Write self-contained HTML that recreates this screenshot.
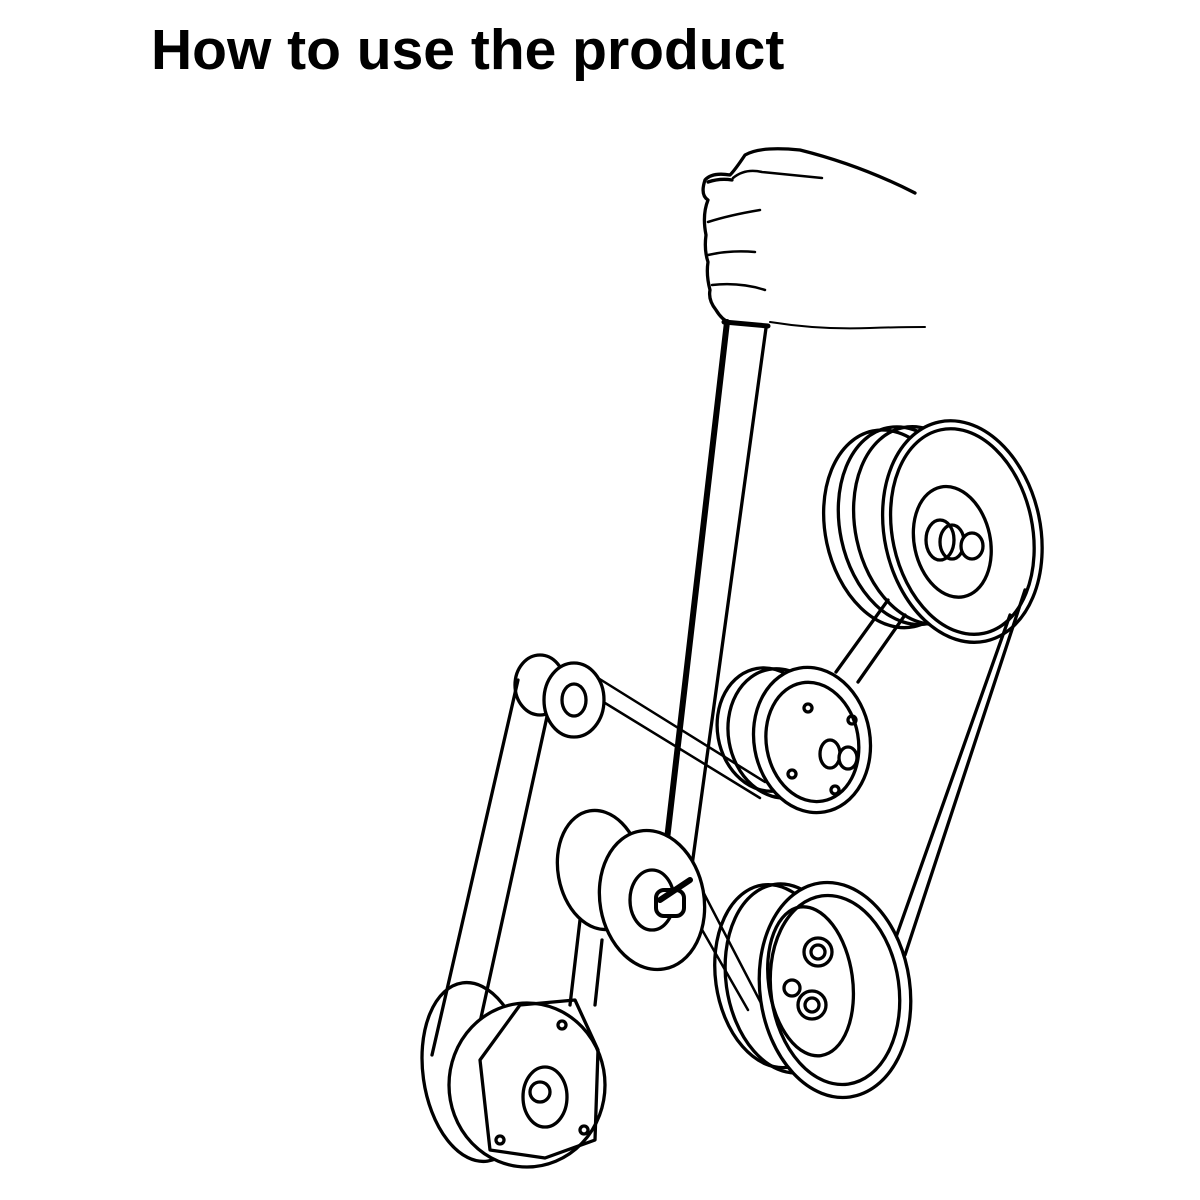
<!DOCTYPE html>
<html><head><meta charset="utf-8"><style>
html,body{margin:0;padding:0;background:#fff;width:1200px;height:1200px;overflow:hidden}
.t{position:absolute;left:151px;top:17px;font:bold 57px "Liberation Sans",sans-serif;color:#000;white-space:nowrap}
svg{position:absolute;left:0;top:0}
</style></head><body>
<div class="t">How to use the product</div>
<svg width="1200" height="1200" viewBox="0 0 1200 1200" fill="none" stroke="#000" stroke-width="3.3" stroke-linecap="round" stroke-linejoin="round">
<!-- hand -->
<path d="M915 193 Q860 165 800 150 Q760 146 745 155 Q735 170 730 175 Q712 172 705 180 Q700 195 708 200 Q702 215 706 235 Q704 250 708 262 Q706 275 710 290 Q708 300 716 310 Q722 320 730 323"/>
<path d="M708 182 Q720 178 732 180"/>
<path d="M733 178 Q745 168 762 172 L822 178" stroke-width="2.5"/>
<path d="M708 222 Q730 215 760 210" stroke-width="2.5"/>
<path d="M708 255 Q730 250 755 252" stroke-width="2.5"/>
<path d="M712 285 Q740 282 765 290" stroke-width="2.5"/>
<path d="M770 322 Q820 330 870 328 Q900 327 925 327" stroke-width="2"/>
<!-- wrench -->
<path d="M724 322 L768 326" stroke-width="5"/>
<path d="M727 322 L660 900" stroke-width="6"/>
<path d="M766 328 L690 880"/>
<!-- top big pulley -->
<g transform="rotate(-12 960 530)">
<ellipse cx="895" cy="515" rx="68" ry="100"/>
<ellipse cx="910" cy="515" rx="68" ry="100"/>
<ellipse cx="925" cy="518" rx="68" ry="100"/>
<ellipse cx="962" cy="532" rx="78" ry="112" fill="#fff"/>
<ellipse cx="962" cy="532" rx="70" ry="104"/>
<ellipse cx="950" cy="540" rx="38" ry="56"/>
</g>
<ellipse cx="940" cy="540" rx="14" ry="20"/>
<ellipse cx="952" cy="542" rx="12" ry="17"/>
<ellipse cx="972" cy="546" rx="11" ry="13" fill="#fff"/>
<!-- belts -->
<path d="M836 672 L888 600 M858 682 L905 615" />
<path d="M1025 590 L905 955 M1010 615 L895 940"/>
<path d="M598 678 L765 782 M592 695 L760 798" stroke-width="2.5"/>
<path d="M518 680 L432 1055 M548 712 L475 1045"/>
<path d="M697 880 L762 1005 M685 900 L748 1010" stroke-width="2.5"/>
<path d="M580 920 L570 1005 M602 940 L595 1005"/>
<!-- middle pulley -->
<g transform="rotate(-10 812 740)">
<ellipse cx="770" cy="722" rx="50" ry="62"/>
<ellipse cx="782" cy="728" rx="52" ry="65"/>
<ellipse cx="812" cy="740" rx="58" ry="73" fill="#fff"/>
<ellipse cx="812" cy="742" rx="46" ry="60"/>
</g>
<circle cx="808" cy="708" r="4"/><circle cx="852" cy="720" r="4"/><circle cx="792" cy="774" r="4"/><circle cx="835" cy="790" r="4"/>
<ellipse cx="830" cy="754" rx="10" ry="14"/>
<ellipse cx="848" cy="758" rx="9" ry="11" fill="#fff"/>
<!-- idler -->
<ellipse cx="540" cy="685" rx="25" ry="30"/>
<ellipse cx="574" cy="700" rx="30" ry="37" fill="#fff"/>
<ellipse cx="574" cy="700" rx="12" ry="16"/>
<!-- tensioner -->
<ellipse cx="600" cy="870" rx="42" ry="60" transform="rotate(-10 600 870)"/>
<ellipse cx="652" cy="900" rx="52" ry="70" fill="#fff" transform="rotate(-10 652 900)"/>
<ellipse cx="652" cy="900" rx="22" ry="30"/>
<rect x="656" y="890" width="28" height="26" rx="8" stroke-width="4" fill="#fff"/>
<path d="M660 900 L690 880" stroke-width="6"/>
<!-- bottom right pulley -->
<g transform="rotate(-8 835 990)">
<ellipse cx="778" cy="968" rx="60" ry="92"/>
<ellipse cx="790" cy="972" rx="62" ry="95"/>
<ellipse cx="835" cy="990" rx="75" ry="108" fill="#fff"/>
<ellipse cx="835" cy="990" rx="64" ry="95"/>
<ellipse cx="812" cy="978" rx="42" ry="75"/>
</g>
<circle cx="818" cy="952" r="14"/><circle cx="818" cy="952" r="7"/>
<circle cx="812" cy="1005" r="14"/><circle cx="812" cy="1005" r="7"/>
<circle cx="792" cy="988" r="8"/>
<!-- bottom left pulley -->
<ellipse cx="475" cy="1072" rx="52" ry="90" transform="rotate(-8 475 1072)"/>
<ellipse cx="527" cy="1085" rx="78" ry="82" fill="#fff"/>
<path d="M480 1060 L520 1005 L575 1000 L598 1050 L595 1140 L545 1158 L490 1150 Z"/>
<ellipse cx="545" cy="1097" rx="22" ry="30"/>
<circle cx="540" cy="1092" r="10"/>
<circle cx="562" cy="1025" r="4"/><circle cx="584" cy="1130" r="4"/><circle cx="500" cy="1140" r="4"/>
</svg>
</body></html>
